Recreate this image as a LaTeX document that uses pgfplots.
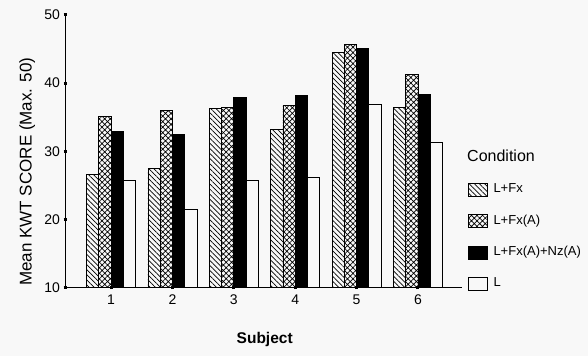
\documentclass[border=0pt]{standalone}
\usepackage{fontspec}
\setmainfont{Liberation Sans}
\usepackage{pgfplots}
\pgfplotsset{compat=1.18}
\usetikzlibrary{patterns.meta}
\definecolor{bgc}{RGB}{248,248,248}
\begin{document}
\begin{tikzpicture}[x=1pt,y=1pt]
\fill[bgc] (0,0) rectangle (588,356);
\begin{axis}[
  at={(65pt,68.5pt)}, anchor=south west,
  scale only axis, width=397pt, height=272.5pt,
  xmin=0.249, xmax=6.717, ymin=10, ymax=50,
  clip mode=individual,
  axis x line*=bottom, axis y line*=left,
  axis line style={black, line width=1pt},
  ybar=0pt, bar width=0.2,
  xtick={1,2,3,4,5,6}, ytick={10,20,30,40,50},
  major tick length=3pt, tick align=center,
  tick style={black, line width=3pt},
  /pgf/number format/assume math mode=true,
  ticklabel style={font=\fontsize{14}{16}\selectfont},
  xticklabel style={yshift=-2.5pt},
  every axis y label/.style={at={(axis description cs:-0.0839,0.425)}, rotate=90, anchor=base},
  every axis x label/.style={at={(axis description cs:0.503,-0.2073)}, anchor=base},
  ylabel={\fontsize{17}{19}\selectfont Mean KWT SCORE (Max. 50)},
  xlabel={\fontsize{15.5}{18}\selectfont\bfseries Subject},
  legend image code/.code={\draw[#1] (0pt,-6.5pt) rectangle (18.5pt,6.5pt);},
  legend style={draw=none, fill=none, at={(1.0151,0.39)}, anchor=north west,
    font=\fontsize{13}{15}\selectfont, row sep=14.3pt, inner sep=0pt,
    nodes={text height=9.5pt, text depth=3.5pt},
    /tikz/every odd column/.append style={column sep=4pt}},
  legend cell align=left,
]
\addplot[draw=black, line width=0.8pt, pattern={Lines[angle=-45,distance=3.6pt,line width=0.7pt]}] coordinates {(1,26.65) (2,27.5) (3,36.3) (4,33.2) (5,44.52) (6,36.45)};
\addplot[draw=black, line width=0.8pt, pattern={Hatch[angle=45,distance=3.9pt,line width=0.7pt]}] coordinates {(1,35.07) (2,36.0) (3,36.45) (4,36.74) (5,45.7) (6,41.3)};
\addplot[draw=black, line width=0.8pt, fill=black] coordinates {(1,32.92) (2,32.5) (3,37.96) (4,38.25) (5,45.1) (6,38.4)};
\addplot[draw=black, line width=0.8pt, fill=bgc] coordinates {(1,25.72) (2,21.5) (3,25.7) (4,26.2) (5,36.9) (6,31.3)};
\legend{L+Fx, L+Fx(A), L+Fx(A)+Nz(A), L}
\node[anchor=base west, inner sep=0pt, font=\fontsize{16}{18}\selectfont] at (axis description cs:1.0126,0.4617) {Condition};
\end{axis}
\pgfresetboundingbox
\path (0,0) rectangle (588,356);
\end{tikzpicture}
\end{document}
